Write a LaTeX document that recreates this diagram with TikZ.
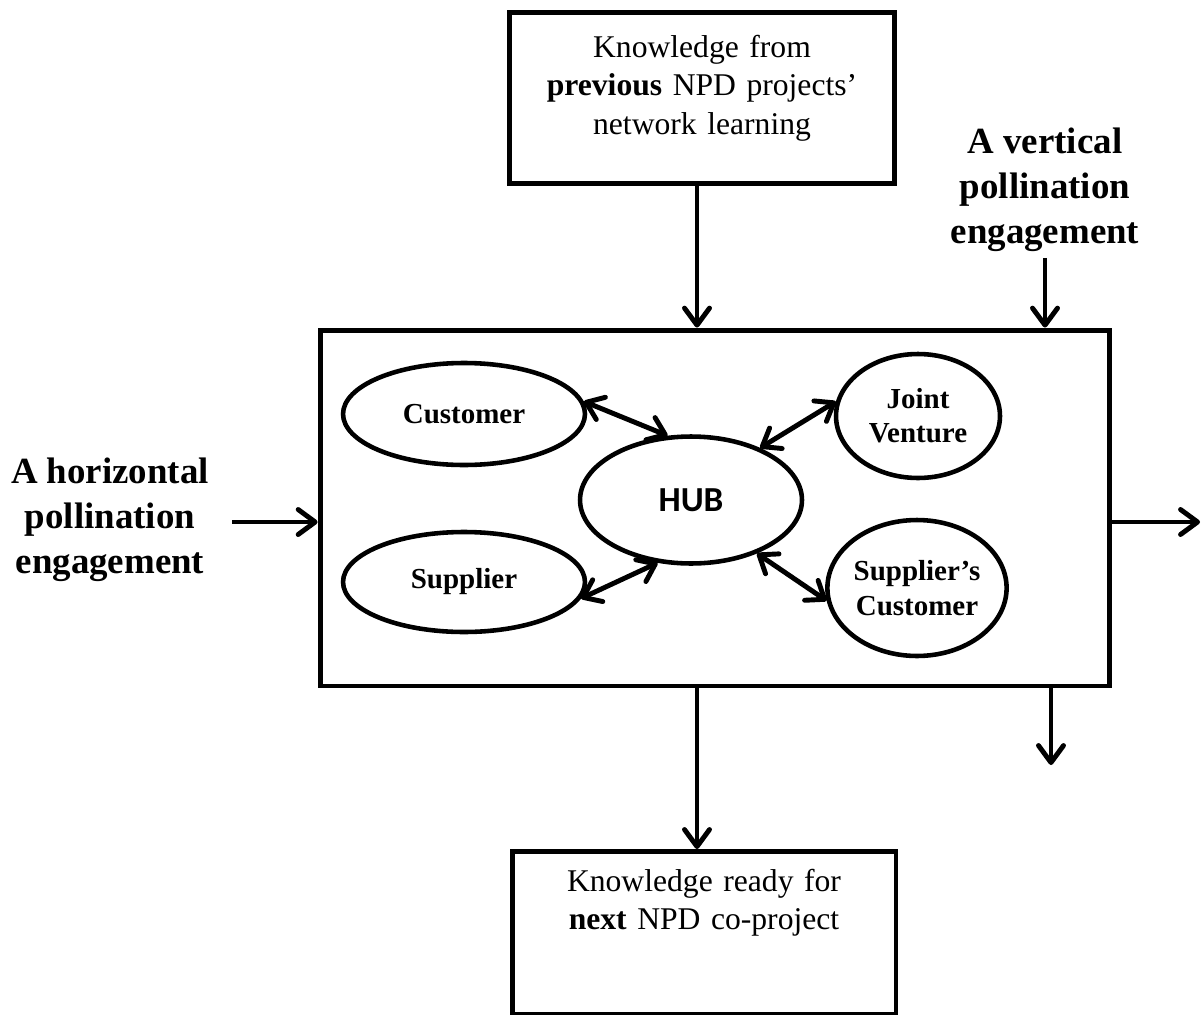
\documentclass[tikz,border=0pt]{standalone}
\usepackage{fontspec}
\setmainfont{Liberation Serif}
\newfontfamily\hubfont{Carlito}
\usetikzlibrary{shapes,arrows.meta,positioning,calc}

\begin{document}
\begin{tikzpicture}[x=0.02cm, y=-0.02cm,
	my box/.style = {draw, line width=2.8pt,
                   inner sep=0pt, align=center, text width=7.4cm,
                   font=\fontsize{18}{21.8}\selectfont},
	my oval/.style = {draw, ellipse, line width=2.6pt,
                   inner sep=0pt, align=center,
                   font=\fontsize{16.5}{19.5}\selectfont\bfseries},
	big label/.style = {align=center,
                   font=\fontsize{21}{25.5}\selectfont\bfseries},
	my arrow/.style = {line width=2.8pt,
                   -{Straight Barb[length=3.4mm, width=5mm, line cap=round, line join=round]}},
	my link/.style = {line width=2.8pt,
                   {Straight Barb[length=3.2mm, width=4.8mm, line cap=round, line join=round]}-{Straight Barb[length=3.2mm, width=4.8mm, line cap=round, line join=round]}}
                   ]
\useasboundingbox (0,0) rectangle (1203,1014);

% boxes
\node[my box, anchor=north, minimum width=7.7cm, text height=0.9cm, text depth=2.52cm]
	(top) at (702,10) {Knowledge from\\ \textbf{previous} NPD projects'\\ network learning};
\node[my box, text width=, minimum width=15.8cm, minimum height=7.12cm] (main) at (715,508) {};
\node[my box, anchor=north, minimum width=7.68cm, text height=0.8cm, text depth=2.46cm]
	(bottom) at (704,849) {Knowledge ready for\\ \textbf{next} NPD co-project};

% side labels
\node[big label] (horiz) at (110,520) {A horizontal\\ pollination\\ engagement};
\node[big label] (vert) at (1045,190) {A vertical\\ pollination\\ engagement};

% network inside the box
\node[my oval, minimum width=4.44cm, minimum height=2.54cm, font=\hubfont\fontsize{20}{24}\selectfont\bfseries]
	(hub) at (691,500) {HUB};
\node[my oval, minimum width=4.84cm, minimum height=2.04cm] (cust) at (464,414) {Customer};
\node[my oval, minimum width=4.84cm, minimum height=2cm] (supp) at (464,582) {Supplier};
\node[my oval, minimum width=3.28cm, minimum height=2.48cm] (jv) at (918,416) {Joint\\ Venture};
\node[my oval, minimum width=3.36cm, minimum height=2.72cm] (sc) at (917,588) {Supplier's\\ Customer};

\draw[my link] (cust.6) -- (hub.110);
\draw[my link] (jv.170) -- (hub.37);
\draw[my link] (supp.-8) -- (hub.-118);
\draw[my link] (hub.-39) -- (sc.-172);

% flows in and out
\coordinate (hin) at (232,522);
\coordinate (rout) at (1200,522);
\coordinate (dout) at (1051,765);

\draw[my arrow] ([xshift=-0.1cm]top.south) -- ([xshift=-0.1cm]top.south |- main.north);
\draw[my arrow] (vert.south) -- (vert.south |- main.north);
\draw[my arrow] (hin) -- (hin -| main.west);
\draw[my arrow] (rout -| main.east) -- (rout);
\draw[my arrow] (dout |- main.south) -- (dout);
\draw[my arrow] ([xshift=-0.1cm]top.south |- main.south) -- ([xshift=-0.1cm]top.south |- bottom.north);
\end{tikzpicture}
\end{document}
